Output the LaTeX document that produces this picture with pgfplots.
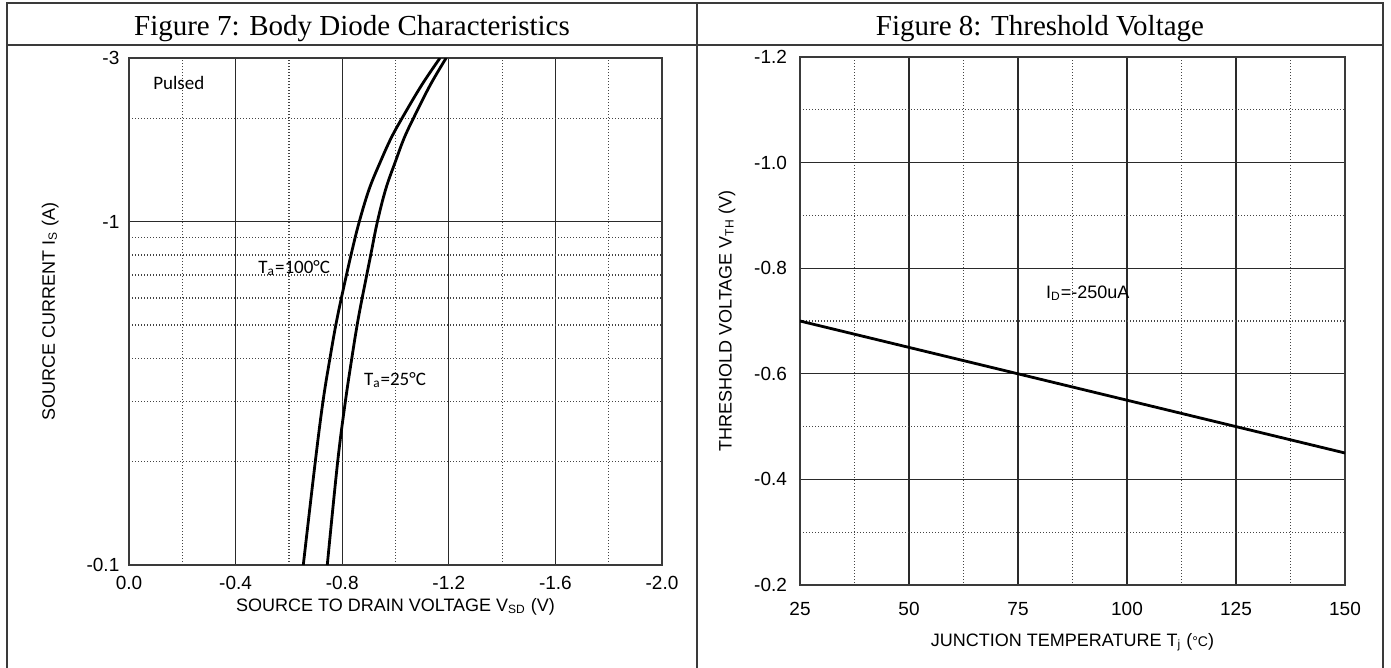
\documentclass[border=0pt]{standalone}
\usepackage{fontspec}
\setmainfont{Liberation Sans}
\newfontfamily\timesfont{Liberation Serif}
\newfontfamily\calibrifont{Carlito}
\usepackage{pgfplots}
\pgfplotsset{compat=1.18}
\definecolor{gridmaj}{HTML}{2A2A2A}
\definecolor{gridmin}{HTML}{444444}
\definecolor{framec}{HTML}{3A3A3A}

\pgfplotsset{
 dsheet/.style={
  scale only axis,
  axis line style={draw=framec, line width=0.7pt},
  grid=both,
  major grid style={draw=gridmaj, line width=0.6pt},
  minor grid style={draw=gridmin, line width=0.6pt, dash pattern=on 0.6pt off 0.9pt},
  major tick length=0pt, minor tick length=0pt,
  tick label style={font=\fontsize{9.5}{11}\selectfont, text=black},
  label style={font=\fontsize{9}{11}\selectfont},
 }
}

\begin{document}
\begin{tikzpicture}
\useasboundingbox (0pt,0pt) rectangle (695.5pt,-334pt);
% table frame
\draw[framec, line width=1pt] (3.5pt,-335pt) -- (3.5pt,-1.5pt) -- (691.5pt,-1.5pt) -- (691.5pt,-335pt);
\draw[framec, line width=1pt] (3.5pt,-22.5pt) -- (691.5pt,-22.5pt);
\draw[framec, line width=1pt] (348.5pt,-1.5pt) -- (348.5pt,-335pt);
\node[anchor=base, font=\timesfont\fontsize{14.5}{17}\selectfont] at (176pt,-18pt) {Figure 7: Body Diode Characteristics};
\node[anchor=base, font=\timesfont\fontsize{14.5}{17}\selectfont] at (520pt,-18pt) {Figure 8: Threshold Voltage};

% Figure 7
\begin{axis}[dsheet, anchor=center, at={(197.75pt,-155.75pt)},
  width=266.5pt, height=253.5pt,
  xmin=0, xmax=2, ymode=log, ymin=0.1, ymax=3,
  xtick={0,0.4,0.8,1.2,1.6,2}, xticklabels={0.0,-0.4,-0.8,-1.2,-1.6,-2.0},
  minor xtick={0.2,0.6,1.0,1.4,1.8},
  ytick={0.1,1,3}, yticklabels={-0.1,-1,-3},
  minor ytick={0.2,0.3,0.4,0.5,0.6,0.7,0.8,0.9,2},
  xticklabel style={anchor=center, yshift=-9pt},
  yticklabel style={anchor=east, xshift=-1.3pt},
  xlabel={SOURCE TO DRAIN VOLTAGE V\textsubscript{SD} (V)},
  xlabel style={at={(axis description cs:0.5,-0.0828)}, anchor=center},
  ylabel={SOURCE CURRENT I\textsubscript{S} (A)},
  ylabel style={at={(axis description cs:-0.148,0.5)}, anchor=center},
]
\addplot[black, line width=1.4pt, smooth, tension=0.6] coordinates {
 (0.654,0.1) (0.699,0.2) (0.728,0.3) (0.754,0.4) (0.776,0.5) (0.797,0.6)
 (0.833,0.8) (0.864,1.0) (0.902,1.25) (0.944,1.5) (0.983,1.75) (1.024,2.0) (1.098,2.5) (1.167,3.0)};
\addplot[black, line width=1.4pt, smooth, tension=0.6] coordinates {
 (0.744,0.1) (0.783,0.2) (0.812,0.3) (0.836,0.4) (0.856,0.5) (0.875,0.6)
 (0.907,0.8) (0.932,1.0) (0.964,1.25) (1.000,1.5) (1.032,1.75) (1.067,2.0) (1.130,2.5) (1.190,3.0)};
\node[font=\calibrifont\fontsize{9.5}{11}\selectfont] at (axis cs:0.187,2.54) {Pulsed};
\node[font=\calibrifont\fontsize{9.5}{11}\selectfont] at (axis cs:0.62,0.733) {T\textsubscript{a}=100°C};
\node[font=\calibrifont\fontsize{9.5}{11}\selectfont] at (axis cs:0.998,0.346) {T\textsubscript{a}=25°C};
\end{axis}

% Figure 8
\begin{axis}[dsheet, anchor=center, at={(536.25pt,-160.5pt)},
  width=272.5pt, height=264pt,
  xmin=25, xmax=150, ymin=-1.2, ymax=-0.2, y dir=reverse,
  xtick={25,50,75,100,125,150}, xticklabels={25,50,75,100,125,150},
  minor xtick={37.5,62.5,87.5,112.5,137.5},
  ytick={-1.2,-1.0,-0.8,-0.6,-0.4,-0.2}, yticklabels={-1.2,-1.0,-0.8,-0.6,-0.4,-0.2},
  minor ytick={-1.1,-0.9,-0.7,-0.5,-0.3},
  xticklabel style={anchor=center, yshift=-12pt},
  yticklabel style={anchor=east, xshift=-3pt},
  xlabel={JUNCTION TEMPERATURE T\textsubscript{j} ({\fontsize{7}{8}\selectfont°C})},
  xlabel style={at={(axis description cs:0.5,-0.108)}, anchor=center},
  ylabel={THRESHOLD VOLTAGE V\textsubscript{TH} (V)},
  ylabel style={at={(axis description cs:-0.134,0.5)}, anchor=center},
]
\addplot[black, line width=1.4pt] coordinates {(25,-0.70) (150,-0.45)};
\node[font=\fontsize{9}{11}\selectfont] at (axis cs:91,-0.753) {I\textsubscript{D}=-250uA};
\end{axis}
\end{tikzpicture}
\end{document}
